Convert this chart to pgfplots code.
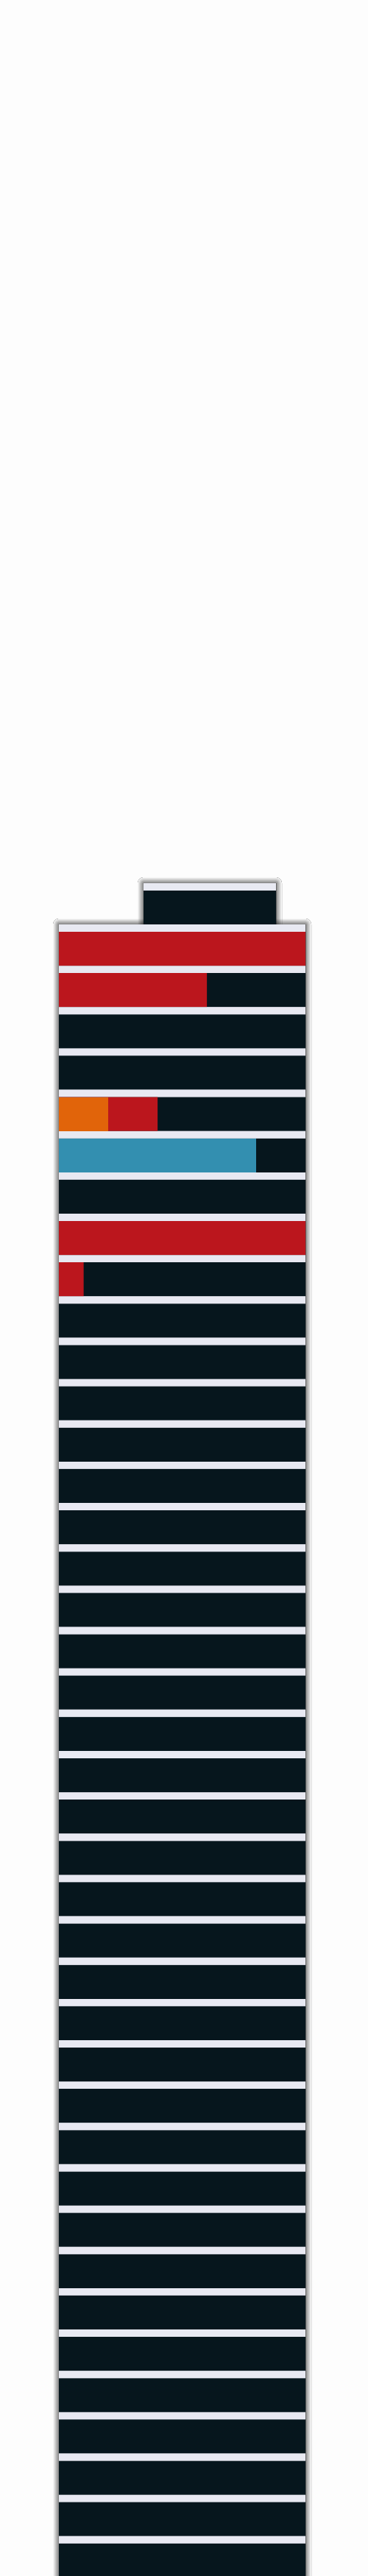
\documentclass[border=0pt]{standalone}
\usepackage{pgfplots}
\pgfplotsset{compat=1.18}
\usetikzlibrary{shadows.blur}
\definecolor{bg}{HTML}{FDFDFD}
\definecolor{dark}{HTML}{06161D}
\definecolor{redc}{HTML}{BB161D}
\definecolor{orangec}{HTML}{E1640A}
\definecolor{bluec}{HTML}{338FB0}
\definecolor{light}{HTML}{E8E9F2}
\begin{document}
\begin{tikzpicture}
\begin{axis}[
  scale only axis, width=125pt, height=875pt,
  xmin=-23.881, xmax=125.373, ymin=-21.957, ymax=40.377,
  y dir=reverse, hide axis,
  axis background/.style={fill=bg},
]
% roof and building backdrop (light strips)
\addplot[fill=light, draw=none, blur shadow={shadow xshift=0pt, shadow yshift=0pt, shadow blur radius=2pt, shadow opacity=100, shadow blur steps=12}]
  coordinates {(34.33,-0.585) (88.06,-0.585) (88.06,0.412) (34.33,0.412)} -- cycle;
\addplot[fill=light, draw=none, blur shadow={shadow xshift=0pt, shadow yshift=0pt, shadow blur radius=2pt, shadow opacity=100, shadow blur steps=12}]
  coordinates {(0,0.412) (100,0.412) (100,40.6) (0,40.6)} -- cycle;
\addplot[fill=dark, draw=none]
  coordinates {(34.33,-0.407) (88.06,-0.407) (88.06,0.412) (34.33,0.412)} -- cycle;
% floors: dark base
\addplot[xbar, bar width=0.8193, bar shift=0, fill=dark, draw=none] coordinates {
(100,1) (100,2) (100,3) (100,4) (100,5) (100,6) (100,7) (100,8) (100,9) (100,10)
(100,11) (100,12) (100,13) (100,14) (100,15) (100,16) (100,17) (100,18) (100,19) (100,20)
(100,21) (100,22) (100,23) (100,24) (100,25) (100,26) (100,27) (100,28) (100,29) (100,30)
(100,31) (100,32) (100,33) (100,34) (100,35) (100,36) (100,37) (100,38) (100,39) (100,40)};
% red (cumulative with orange)
\addplot[xbar, bar width=0.8193, bar shift=0, fill=redc, draw=none] coordinates {
(100,1) (60,2) (40,5) (100,8) (10,9)};
% blue
\addplot[xbar, bar width=0.8193, bar shift=0, fill=bluec, draw=none] coordinates {
(80,6)};
% orange
\addplot[xbar, bar width=0.8193, bar shift=0, fill=orangec, draw=none] coordinates {
(20,5)};
\end{axis}
\end{tikzpicture}
\end{document}
